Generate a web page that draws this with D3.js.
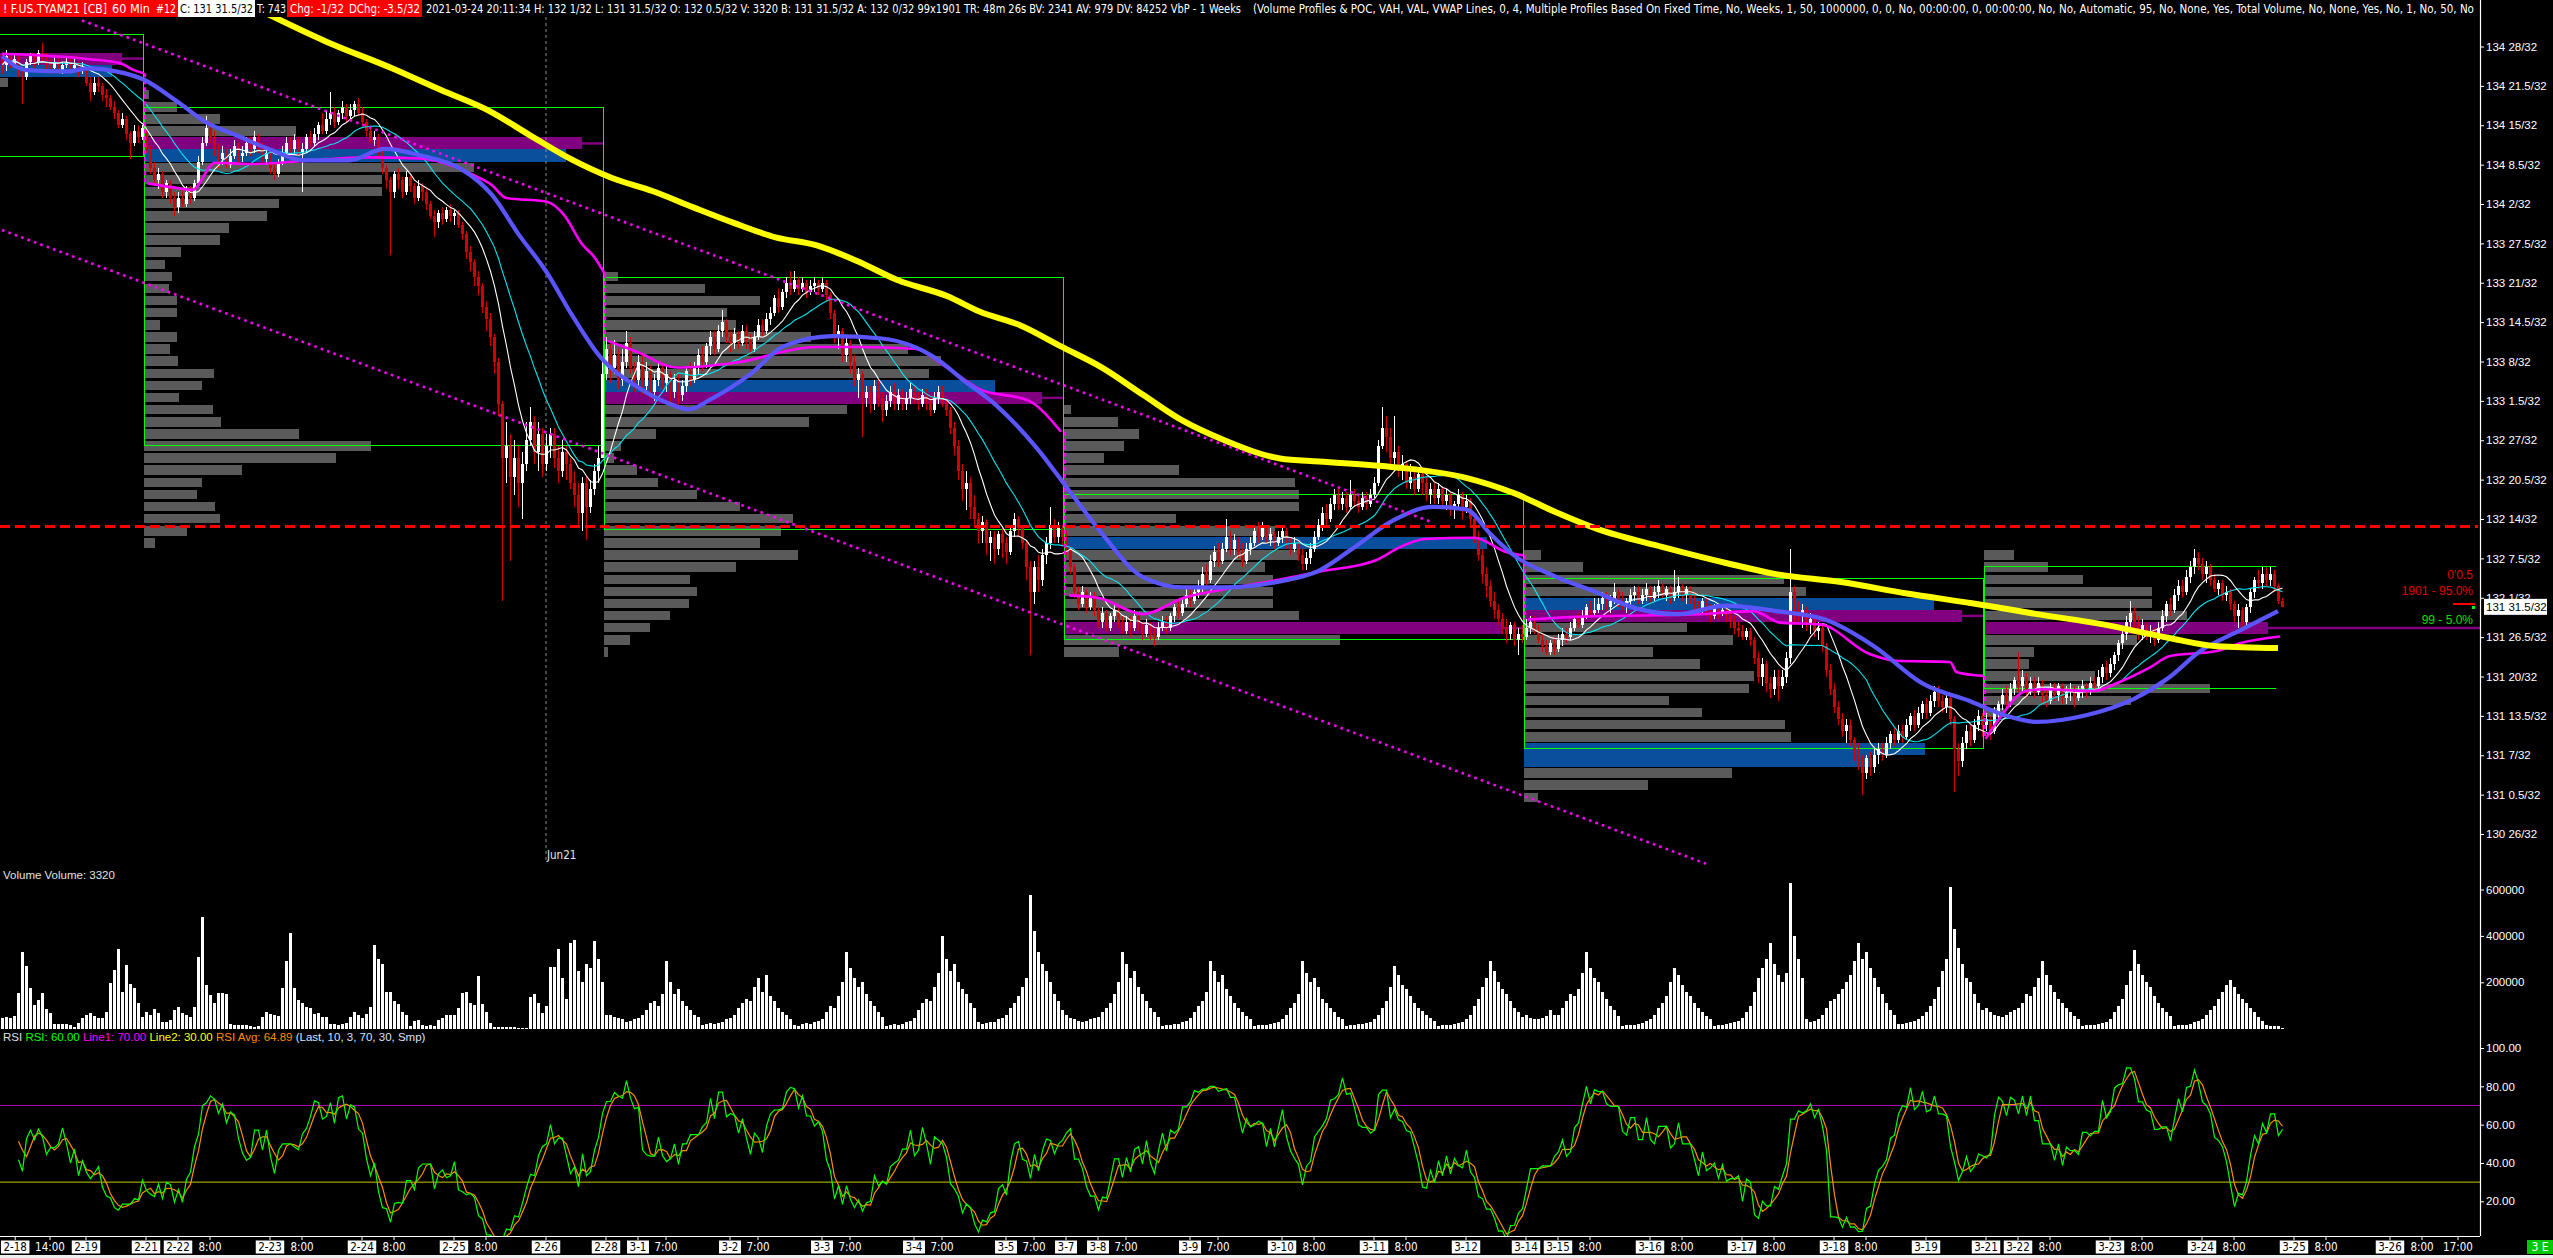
<!DOCTYPE html>
<html><head><meta charset="utf-8"><title>F.US.TYAM21 60 Min</title>
<script src="https://cdn.jsdelivr.net/npm/d3@7/dist/d3.min.js"></script>
<style>
html,body{margin:0;padding:0;background:#000;overflow:hidden}
svg{display:block}
text{font-family:'Liberation Sans','DejaVu Sans',sans-serif}
.n,.n text{font-family:'Liberation Sans Narrow','DejaVu Sans Condensed','Roboto Condensed','Liberation Sans',sans-serif}
</style></head><body>
<svg id="chart" width="2553" height="1258"></svg>
<script>
// ---------------- DATA (prices in 32nds above 130, volume in thousands) ----------------
const firstOpen = 154;
const closes = [153,154.5,153,154,152,151,153.5,154.5,153.5,155,154,153,152.5,153.5,152,153,153.5,152.5,153,152,152.5,150,148.5,150,149.5,148,147.5,146,145,143,144,141.5,140,142,141,142.5,139,136,134,135,132,133.5,131,129.5,131,130,132,131,133.5,137,140,142.5,141,139,137.5,138.5,136.5,138,139.5,138,138.5,140,139,141,139.5,137.5,138.5,136,135,137,138.5,140,139,140.5,138.5,139,141,140,141.5,143,142,144,145,143.5,145,146,144.5,145.5,146.5,145,143.5,142,140.5,141,138,136,134,132,135,134,132,134.5,133,131,133,132,130,128,127,128.5,127.5,129,128,128.5,126.5,125,122,120.5,118,116.5,113,111,108,104,97,88,90,85,88,84,87,91,94,89,92,87,90,92,88,86,89,87,84,82,79,84,80,83,86,88,102,106,103,105,101,104,107,103,101,104,100,102.5,99,101,103,100.5,102,99,101,98.5,100,102.5,101,103,105,104,106.5,108,106,109,110.5,108,107,108.5,107,109,107.5,106,108,110,109,111,112,114.5,113,115.5,117,116,117.5,116,117,115.5,116.5,117,116,117,115,112,108,109,105,107,104,101,102,98,99,97,100,98,96,97.5,99,97,98.5,97,98,99.5,98,97,98.5,97.5,96,98,99,97,96,93,90,86,83,84,80,78,76,77.5,74,75,73,75.5,74,72.5,76,78,76.5,74,70,66,70,68,72,74,77,75,76.5,75,73,70,66,64,66,63.5,65,63,61,62.5,60,62,63,61,59.5,61,60,62,60.5,59,60.5,59,58.5,60,61,60,62,63.5,62.5,64,65.5,64.5,66,67,69,68,71,72.5,71,73,75,73,74.5,72.5,71,73,74,76,75,76.5,74.5,75.5,74,75,76,74,73,74,72,70.5,71.5,73,75,77,79,78,80.5,82,80.5,81.5,80,82,81,80,81.5,80.5,82,84,90,93,91.5,88,89,86,87,84,85,83,85.5,84,82,83,81.5,83,81,82,79.5,80.5,82,80,81,78,75,72,69,67,64.5,63,61.5,60,59,60.5,58,59,58.5,60,61,59.5,58,57,56,57.5,56.5,58,59,58.5,60,61.5,60.5,62,63.5,62.5,63,64,65,63.5,64.5,66,65,63.5,64.5,65.5,66,64.5,65.5,66.5,65,66,67,65.5,66.5,65,66,67,65.5,66.5,65,64,63,64.5,63,62,63.5,62.5,63,62,61,60,59.5,58.5,59.5,58,55,52,54,51,50,52,50.5,52,55,66,63,62,63,60.5,61.5,59.5,60,57,53,50,47,45,43,44,41.5,40,38,36,38.5,37,39,40,39,41,42.5,41.5,43,42,44,45.5,44,46,47.5,46,48,49.5,48,47,48.5,45,40,38,41,43,41.5,44,45.5,44,45,43,46,47.5,49,48,50,51.5,50.5,52,50,51,49.5,51,49,48,50,49,50.5,48.5,49.5,50,48.5,49.5,50.5,49.5,51,50.5,52,53.5,52.5,54,55.5,57.5,59,61,62.5,61,59,60.5,58.5,59.5,58,60,62,64,63,65.5,67,66,68.5,70,71.5,70.5,69,70,68,66.5,67.5,65.5,66,64,62,63,61,63.5,66,68,67.5,69,68,69,67,64.5,63.5];
const highs = [155,155.5,155,155,154.5,152.5,154,155,155,155.5,156.5,155,154,154.5,154,153.5,154.5,154,154,153.5,153.5,152.5,151,151,151,150,149,148,147,145.5,145,144.5,142,143,143,143,142.5,139.5,137,136,135.5,134,134,132,132,132.5,133,133,134,138,141,144.5,143.5,142,140,139.5,139,139,140.5,140,139.5,141,141,142,141.5,140,139,139,137,137.5,139.5,141,141,141.5,141,140,141.5,142,142.5,143.5,145,145.5,148.5,146,145.5,147,146.5,146.5,147,147.5,146,144,143,142,141.5,139,136.5,134.5,135.5,136,134.5,135.5,135,133.5,134,133.5,132.5,130.5,129,129,129.5,129.5,130,129,129,127,125.5,123,121,119,117,114,112,108.5,104.5,97.5,94,92,91,90,89,94,96.5,95,94,93,92,93,93,90,91,90,88,86,84,85,85,84.5,87,90,104,108,107,107.5,106,106,109,108,104,105,105,104,103.5,102,104,104,103.5,102.5,102,102,101,103,104,104,106,106.5,107,109,109,110,112.5,111,109,109.5,109,110,110,108.5,109,111,111,112,113,115,116,116,118,119,119,118,118,117.5,117.5,118,117.5,118,117.5,115.5,112.5,110,109.5,108,107.5,105,103,102.5,100,100,101,101,99,98.5,100,100.5,99.5,99.5,99,100.5,100,99,99.5,99.5,98.5,99,100,100,98,96.5,94,91,87,86,85,82,79,78.5,78,76,76,76,76.5,75,77,79,78.5,77,74.5,71,71,72,73,75,80,78,77.5,77,76,73.5,70.5,67,67,66.5,66,66,63.5,63.5,63,62.5,64,63.5,62,62,62,63,62.5,61,61.5,61,60,61,62,62,62.5,64,64.5,65,66.5,66.5,67,68,70,70.5,72,73.5,74,74,78,76,75.5,75,74,74,75,77,77.5,77.5,77,76.5,76,76,77,76.5,75,75,74.5,73,72.5,74,76,78,80,80.5,81.5,83,83,82.5,82.5,84.5,83,82,82.5,82.5,83,85,91,96.5,95,93,95,90,88.5,87.5,87,86,86.5,86,85,84,84,84,83.5,83,82.5,81,83,82.5,82,81.5,79,76,73,70,68,66,64,62.5,61.5,61,61,60,60.5,61.5,62,62,60.5,59,58,58,58.5,59,60,60,61,62,62.5,63,64,64.5,65,65,66,66,65.5,67.5,66.5,66,65,66.5,67,67,66.5,67.5,67,67,68,67.5,67,67,69.5,68.5,67.5,67,67,66,64.5,65,65,64,64,64,64,63.5,62.5,62,61,60.5,60,60,58.5,56,55,54.5,52,53,53,53,56,73,67,64.5,64,63.5,62.5,62,61,60.5,57.5,54,51,48,46,45,45,42,41,39,39,39.5,40,41,41,42,43,43.5,44,44,45,46,46.5,47,48,48.5,49,50.5,50.5,49,49,49,45.5,41,42,44,44,45,46.5,46,46,45.5,47,48,50,50.5,51,52,56,53,52.5,52,52,52,51.5,50,51,51,51,51,50.5,51,50.5,50.5,51.5,51,52,52,53,54,54.5,55,56,58,60,62,64.5,63.5,62,61.5,61,60.5,60,61,63,64.5,65,66.5,68,68,69.5,71,73,72.5,71.5,71,70.5,69,68,68,67,66.5,64.5,64,63.5,64,66.5,68.5,69.5,70,70,70,69.5,67.5,65];
const lows = [151.5,152,152.5,152.5,151,146.5,150.5,153,152.5,153,153.5,152,151.5,152,151.5,151.5,152.5,152,152,151,151.5,149.5,147,148,148.5,147,146,145.5,144,142.5,142.5,140.5,137.5,139.5,140,140.5,138.5,135,133,132.5,131,131,130,128,128.5,129.5,129.5,130,130.5,133,136.5,139.5,140,138,136,136.5,136,136,137.5,137,137,138,138,138.5,138.5,137,136.5,135,134,134.5,136.5,138,137.5,138.5,138,132,138.5,139.5,139.5,140.5,141.5,141.5,143,142.5,143,144,143.5,144,144.5,144.5,143,141,140,139.5,137.5,135,132.5,121.5,131,132.5,131,131.5,132,130,130.5,130.5,129,127.5,124.5,126,126.5,127,127,126.5,126,124,121,119,116.5,115,112,109,106.5,102,95,64.5,84,71,82,80,78,86,90,87,86,85,86,88,86.5,84,85,84.5,83,80,77,76,74.5,79,82,84,88,101,100.5,102,99.5,100,103,102,99,100,98.5,99,98,97.5,100,99.5,99,97,98,96.5,97.5,99,100,100.5,102,102.5,103,105,105,105.5,108,107,105.5,106,106,106.5,106,105,105.5,107.5,108,108.5,110,111.5,112,112.5,114.5,115,115.5,115,115.5,114.5,115,115.5,115,115.5,114,111,107,106,104,104,102,100,98,91.5,96.5,95.5,96,96.5,94,95,96.5,96,96,96,96,97,97,96,96.5,96,95,95.5,97,96.5,95,92,88.5,84.5,81,79.5,78,76.5,74,74,72,71,70.5,72,71.5,70.5,72,75,75,73,68,55.5,64,66,67,70.5,73,74,74,73.5,72,69,65,63,63.5,62.5,63,62,60,60,59.5,59.5,61,60,59,59,58.5,59.5,59.5,58,58.5,58,57,58,59.5,59,59.5,61,61.5,62,63.5,63.5,64,65,66,67,67.5,70,70,70.5,72.5,72,72,71.5,70,70.5,72,73.5,74,74.5,74,73.5,73,73.5,74,73,72,72.5,71,69.5,69.5,70.5,72.5,74.5,76,77,77.5,79.5,79.5,79.5,79,79.5,80,79,79.5,79.5,80,81.5,83.5,89.5,89,87,86,85,84.5,83,83,82,82.5,82,81,80.5,80.5,80.5,80,79.5,78.5,78,79.5,78,79,77,74,71,67.5,65,63.5,61.5,60.5,59,57.5,58,57,55.5,57.5,58,59,59,57.5,56,55.5,55.5,55.5,56,57,57.5,58,59.5,60,60,61.5,62,62,62.5,63,63,62.5,64,63.5,63,62.5,63.5,64.5,64,64,64.5,64,64.5,65,65,64.5,64,64.5,65,64.5,64,64,63,62,62.5,62,61,61.5,61.5,62,61,60,59,58.5,58,58,57,54,51,50.5,49.5,48.5,49,48,50,51,54,61,60.5,60,59.5,59,58.5,58,56,52,49,46,44,42,41,40.5,38,36.5,32.5,35,35.5,36,37.5,38,38.5,40,40.5,41,41,41.5,43,43,43.5,45,45,45.5,47,47,46,46,44,33,35.5,37,40,40.5,41,43,42,43,41.5,42.5,45,46.5,47,47,49,49.5,49.5,48.5,49,48.5,49,47.5,47,47.5,48,48,47.5,47.5,48,47,48,48.5,48.5,49,49.5,50,51,51.5,52,53,54.5,56.5,58,60,60,58,58,58,57.5,57,57.5,59.5,61,62,62.5,64.5,65,65.5,67.5,69,69.5,68,67.5,67,66,65.5,64.5,64.5,63,61,60,60,60.5,62.5,65,66.5,66.5,67,67,66,64,63.5];
const volumes = [48,51,48,55,155,329,270,174,102,124,152,85,66,19,19,20,19,16,8,26,44,59,66,55,48,44,73,195,253,342,159,274,192,174,109,49,70,59,83,66,30,27,37,80,93,69,59,52,95,310,480,188,145,109,155,155,149,19,16,17,14,16,13,8,11,52,70,63,59,55,174,293,411,174,124,109,95,88,63,66,52,52,20,19,16,19,23,52,73,59,47,63,95,360,302,281,159,159,119,106,73,59,11,34,37,14,13,16,13,37,44,59,57,59,88,152,159,109,102,227,106,73,23,8,8,8,8,8,8,4,4,4,138,149,112,69,98,264,267,342,220,126,370,382,250,200,280,260,380,300,200,60,60,50,45,40,30,35,40,45,60,80,110,120,100,150,290,200,150,170,120,100,80,60,50,15,20,25,20,25,30,40,45,60,90,110,130,120,180,220,160,230,140,120,90,70,60,40,15,12,20,25,20,30,35,40,70,100,90,140,200,330,260,220,180,200,150,120,100,70,50,12,15,20,18,22,30,35,45,80,110,130,120,180,240,400,300,250,280,200,170,150,110,90,30,20,25,30,28,40,45,60,90,110,140,180,220,575,420,330,280,250,200,150,120,80,60,45,40,35,30,35,40,45,50,70,90,110,150,200,330,280,220,250,180,150,120,90,70,50,12,15,18,20,22,28,35,45,70,100,120,160,290,250,200,230,170,140,110,90,70,55,40,12,15,15,18,20,25,30,40,60,90,110,150,290,240,200,220,180,130,110,90,70,50,40,12,14,16,20,22,25,30,40,60,90,120,180,270,230,190,170,140,110,90,75,60,45,35,12,14,16,18,20,25,30,40,60,100,130,180,220,290,250,200,170,150,120,90,70,50,60,45,40,40,45,55,80,60,60,90,120,150,140,170,240,330,260,220,200,160,130,100,80,55,12,14,16,18,22,26,32,42,60,90,110,140,200,260,230,190,160,140,110,90,70,55,40,12,14,16,20,24,28,35,45,70,100,160,220,260,300,370,280,230,200,240,630,400,300,220,40,30,35,40,60,90,120,130,150,170,200,230,290,370,300,330,260,220,180,150,110,80,60,20,22,24,30,35,40,55,70,100,130,180,250,300,610,430,350,280,220,200,150,110,80,90,70,60,55,50,60,70,80,90,110,150,140,180,220,290,230,190,160,130,110,90,70,55,40,12,14,15,18,20,25,30,40,70,100,130,190,250,340,280,230,200,180,140,110,90,70,55,12,14,16,18,22,28,32,40,60,80,100,130,160,190,210,180,150,130,110,90,70,50,35,15,12,12,10,3.3];

// moving-average line (bar index, price in 32nds)
const blueMA = [[0,154.4],[6.25,152.1],[16.25,151.9],[21.9,152.4],[28.5,151.9],[35.25,150.6],[44.25,146.7],[51,143.5],[58.75,141.3],[66.65,139.1],[75.5,137.2],[86.75,137.2],[95.75,139.1],[104.7,138.0],[114.75,135.8],[122.5,131.5],[129.25,124.9],[136,118.9],[142.75,111.4],[149.5,104.8],[158.4,100.0],[166.25,97.2],[171.75,96.1],[177,97.7],[187.25,102.0],[195.4,106.5],[207.7,108.2],[220,107.8],[234,104.3],[240,101.1],[248.5,96.8],[258.7,89.7],[266.75,82.7],[275,75.6],[285,68.5],[295.5,66.7],[305.6,66.7],[319.5,67.7],[329,69.4],[337.4,73.0],[347.6,77.7],[357.75,80.0],[366,79.6],[372,75.6],[378,72.0],[388.4,68.5],[398.6,65.9],[408.75,63.2],[419,62.3],[431,63.7],[443.5,62.8],[455.75,61.4],[468,57.0],[480,50.9],[492.5,47.8],[500.7,45.6],[508.75,44.5],[521,45.6],[533,48.3],[541.5,51.7],[549.6,56.2],[559.75,59.7],[569,62.8]];
const yellowMA = [[64.75,161.9],[81.1,156.8],[97.5,152.4],[109.75,148.8],[122,145.3],[132.1,141.3],[142.25,137.4],[152.5,134.3],[162.75,132.1],[173,129.4],[183.25,126.8],[193.4,124.5],[203.5,123.2],[213.75,120.6],[224,117.4],[236.25,114.8],[244.5,112.2],[254.5,110.0],[264.75,106.5],[275,103.0],[285.25,98.5],[295.5,94.1],[305.6,91.0],[319.5,88.0],[329.25,87.5],[347.5,86.6],[366,84.8],[378.25,82.2],[388.5,79.1],[398.6,76.4],[415,73.4],[431.25,70.7],[443.5,68.9],[459.75,67.6],[476.25,65.7],[492.5,64.1],[508.75,62.3],[525.25,60.6],[541.5,58.4],[553.75,57.0],[569,56.7]];
// weekly VWAP lines
const vwap = [
 [[0,154.8],[21.9,153.9],[29.75,153.2],[33,152.1],[35.5,151.6]],
 [[36.4,133.4],[44.25,132.6],[47.6,132.3],[53.25,136.8],[62.2,136.6],[75.5,137.1],[91.25,137.7],[104.5,137.5],[118.1,134.7],[122.5,133.1],[126,131.0],[136,130.4],[140.5,128.2],[145,123.4],[148.25,121.1],[150.75,118.4]],
 [[151.5,107.4],[158.75,105.6],[168.9,103.0],[183.25,103.8],[203.5,106.4],[213.75,106.4],[228,106.1],[236.25,103.0],[244.5,99.4],[256.75,97.5],[264.75,92.4]],
 [[266.75,65.4],[274,65.0],[285.25,62.3],[295.5,65.0],[305.6,66.4],[319.5,68.0],[329.25,69.3],[343.5,71.2],[349.65,73.4],[355.75,74.7],[368,74.9],[376.25,72.5],[380.25,72.0]],
 [[381.5,61.4],[395.5,61.9],[413.25,62.1],[424.5,62.3],[437.9,62.8],[444.5,60.9],[454.6,60.6],[466.9,55.7],[473.5,54.6],[487,54.4],[488.7,52.7],[495.4,52.1]],
 [[495.9,41.7],[499.25,45.0],[506,49.6],[510.5,49.9],[522.75,49.6],[529.4,51.1],[537,53.5],[542,55.4],[553.7,56.2],[559.5,57.5],[569.5,58.6]]
];
// weekly volume profiles
const profileStart = [-80, 36, 151, 266, 381, 496];
const profileEnd   = [36, 151, 266, 381, 496, 570.5];
const profileTop   = [156, 148, 118, 96, 72, 72];
const profileVols = [
 [250,440,430,327,280,200],
 [4.8,32.6,75.9,151,435.9,420,328,236.7,236.7,134.6,122.4,84.8,75.9,36.7,21.2,27.7,24.4,32.6,32.6,16.3,32.6,26,34.2,70,58,35,69,76.7,154,226,191,98,58,53,71,76,42.4,11.4],
 [14,100.6,155,122.6,131,206,302,335,322.6,388,435,241,204,52,16.5,10,33,54,92,135,188,176,155,193,131,85,92,84,66,46,26,4],
 [7,54,75,60,40,115,232,236,236,112,212,424,236,201,210,210,210,236,439,277,55],
 [17,59,259,281,408,436,162,208,128,175.5,228.6,223.7,144.5,177,259.6,266,399,344.5,207,123,14],
 [30,63,98,166,166,200,280,151,49,44,110,223,145,20]
];
const profilePOC  = [1, 4, 10, 18, 5, 6];
const profileBlue = [[2],[5],[9],[11],[4,16,17],[]];
const valueAreaHigh = [157.9, 146.0, 117.8, 82.1, 68.1, 70.2];
const valueAreaLow  = [137.9, 90.1, 76.2, 58.1, 40.1, 50.0];
const trendUpper = [[20,160.3],[357,77.6]];
const trendLower = [[0,125.7],[426,21.1]];
const refLine = 76.75;
const lastPrice = 63.5;
const rollBar = 136;
// axis ticks
const priceTickValues = [156,149.5,143,136.5,130,123.5,117,110.5,104,97.5,91,84.5,78,71.5,65,58.5,52,45.5,39,32.5,26];
const priceTickLabels = ["134 28/32","134 21.5/32","134 15/32","134 8.5/32","134 2/32","133 27.5/32","133 21/32","133 14.5/32","133 8/32","133 1.5/32","132 27/32","132 20.5/32","132 14/32","132 7.5/32","132 1/32","131 26.5/32","131 20/32","131 13.5/32","131 7/32","131 0.5/32","130 26/32"];
const volTickValues = [200, 400, 600];
const volTickLabels = ["200000","400000","600000"];
const rsiTickValues = [20, 40, 60, 80, 100];
const rsiTickLabels = ["20.00","40.00","60.00","80.00","100.00"];
const timeTickBars = [3.3,12,21,36,44,52,67,75,90,98,113,121,136,151,159,166,182,189,205,212,228,235,251,258,266,274,281,297,304,320,328,343,351,366,381,389,397,412,420,435,443,458,466,481,496,504,512,527,535,550,558,573,581,597,605,614];
const timeTickLabels = ["2-18","14:00","2-19","2-21","2-22","8:00","2-23","8:00","2-24","8:00","2-25","8:00","2-26","2-28","3-1","7:00","3-2","7:00","3-3","7:00","3-4","7:00","3-5","7:00","3-7","3-8","7:00","3-9","7:00","3-10","8:00","3-11","8:00","3-12","3-14","3-15","8:00","3-16","8:00","3-17","8:00","3-18","8:00","3-19","3-21","3-22","8:00","3-23","8:00","3-24","8:00","3-25","8:00","3-26","8:00","17:00"];

// ---------------- DRAWING ----------------
const W = 2553, H = 1258, AX = 2480;
const svg = d3.select("#chart");
svg.append("rect").attr("width", W).attr("height", H).attr("fill", "#000");

const X = d3.scaleLinear().domain([0, 570]).range([2, 2282]);
const edge = b => X(b) - 2;
const Y = d3.scaleLinear().domain([26, 156]).range([834, 46.5]);
const YV = d3.scaleLinear().domain([0, 600]).range([1028.7, 889.5]);
const YR = d3.scaleLinear().domain([20, 100]).range([1201.3, 1048]);

const defs = svg.append("defs");
defs.append("clipPath").attr("id", "mainClip").append("rect").attr("x", 0).attr("y", 17).attr("width", AX).attr("height", 858);
defs.append("clipPath").attr("id", "rsiClip").append("rect").attr("x", 0).attr("y", 1040).attr("width", AX).attr("height", 196);
const main = svg.append("g").attr("clip-path", "url(#mainClip)");

// volume profiles
profileVols.forEach((vols, k) => {
  const x0 = edge(profileStart[k]), x1 = edge(profileEnd[k]);
  const len = d3.scaleLinear().domain([0, d3.max(vols)]).range([0, (x1 - x0) * 0.952]);
  const g = main.append("g").attr("shape-rendering", "crispEdges");
  vols.forEach((v, j) => {
    const p = profileTop[k] - 2 * j;
    const yt = Y(p + 1), yb = Y(p - 1);
    const poc = j === profilePOC[k], blue = profileBlue[k].includes(j);
    g.append("rect").attr("x", x0).attr("width", len(v))
      .attr("y", (poc || blue) ? yt : yt + 1)
      .attr("height", (poc || blue) ? (yb - yt) : (yb - yt - 2.6))
      .attr("fill", poc ? "#800080" : blue ? "#0a4f9c" : "#5a5a5a");
  });
  const pp = profileTop[k] - 2 * profilePOC[k];
  const xe = k === profileVols.length - 1 ? AX : x1;
  main.append("line").attr("x1", x0 + len(vols[profilePOC[k]])).attr("x2", xe)
    .attr("y1", Y(pp)).attr("y2", Y(pp)).attr("stroke", "#800080").attr("stroke-width", 2.5);
});

// value-area boxes (VAH / VAL)
const vaG = main.append("g").attr("stroke", "#00ff00").attr("stroke-width", 1).attr("shape-rendering", "crispEdges");
profileStart.forEach((s, k) => {
  const last = k === profileStart.length - 1;
  const x0 = edge(s), x1 = last ? edge(profileEnd[k]) - 6 : edge(profileEnd[k]);
  const yh = Y(valueAreaHigh[k]), yl = Y(valueAreaLow[k]);
  vaG.append("line").attr("x1", x0).attr("x2", x1).attr("y1", yh).attr("y2", yh);
  vaG.append("line").attr("x1", x0).attr("x2", x1).attr("y1", yl).attr("y2", yl);
  if (k > 0) vaG.append("line").attr("x1", x0).attr("x2", x0).attr("y1", yh).attr("y2", yl);
  if (!last) vaG.append("line").attr("x1", x1 - 1).attr("x2", x1 - 1).attr("y1", yh).attr("y2", yl);
});

// reference dashed red line
svg.append("line").attr("x1", 0).attr("x2", AX - 2).attr("y1", Y(refLine)).attr("y2", Y(refLine))
  .attr("stroke", "#ff0000").attr("stroke-width", 3).attr("stroke-dasharray", "10,5");

// roll-over marker
main.append("line").attr("x1", X(rollBar)).attr("x2", X(rollBar)).attr("y1", 17).attr("y2", 860)
  .attr("stroke", "#8a8a8a").attr("stroke-width", 1).attr("stroke-dasharray", "3,3");
svg.append("text").attr("class", "n").attr("x", X(rollBar) + 1).attr("y", 859).attr("fill", "#e6e6e6")
  .attr("font-size", 11.5).text("Jun21");

// candles
const bars = closes.map((c, i) => {
  const o = i ? closes[i - 1] : firstOpen;
  return { i, o, c, h: Math.max(highs[i], o, c), l: Math.min(lows[i], o, c) };
});
const gc = main.append("g").attr("shape-rendering", "crispEdges");
gc.selectAll("rect.w").data(bars).join("rect").attr("class", "w")
  .attr("x", d => X(d.i)).attr("width", 1)
  .attr("y", d => Y(d.h)).attr("height", d => Math.max(1, Y(d.l) - Y(d.h)))
  .attr("fill", d => d.c >= d.o ? "#ffffff" : "#d40000");
gc.selectAll("rect.b").data(bars).join("rect").attr("class", "b")
  .attr("x", d => X(d.i) - 1).attr("width", 3)
  .attr("y", d => Y(Math.max(d.o, d.c))).attr("height", d => Math.max(1, Math.abs(Y(d.o) - Y(d.c))))
  .attr("fill", d => d.c >= d.o ? "#ffffff" : "#d40000");

// short moving averages of the closes
function sma(arr, n) { return arr.map((v, i) => d3.mean(arr.slice(Math.max(0, i - n + 1), i + 1))); }
const lineBars = d3.line().x((d, i) => X(i) + 0.5).y(d => Y(d));
main.append("path").attr("d", lineBars(sma(closes, 20))).attr("fill", "none").attr("stroke", "#00e6f0").attr("stroke-width", 1.1);
main.append("path").attr("d", lineBars(sma(closes, 10))).attr("fill", "none").attr("stroke", "#ffffff").attr("stroke-width", 1.1);

// VWAP
const ptLine = d3.line().curve(d3.curveMonotoneX).x(d => X(d[0])).y(d => Y(d[1]));
vwap.forEach((seg, k) => {
  main.append("path").attr("d", ptLine(seg)).attr("fill", "none").attr("stroke", "#ff00ff").attr("stroke-width", 2.6);
  if (k < vwap.length - 1) {
    const a = seg[seg.length - 1], b = vwap[k + 1][0];
    main.append("line").attr("x1", edge(profileEnd[k]) + 1).attr("x2", edge(profileEnd[k]) + 1)
      .attr("y1", Y(a[1])).attr("y2", Y(b[1])).attr("stroke", "#ff00ff").attr("stroke-width", 2.2).attr("stroke-dasharray", "4,3");
  }
});
main.append("path").attr("d", ptLine(blueMA)).attr("fill", "none").attr("stroke", "#5a55ff").attr("stroke-width", 4.2);
main.append("path").attr("d", ptLine(yellowMA)).attr("fill", "none").attr("stroke", "#ffff00").attr("stroke-width", 6);
[trendUpper, trendLower].forEach(t => main.append("path").attr("d", d3.line().x(d => X(d[0])).y(d => Y(d[1])).curve(d3.curveLinear)(t))
  .attr("fill", "none").attr("stroke", "#ff00ff").attr("stroke-width", 2.6).attr("stroke-dasharray", "2.6,4.2"));

// volume pane
svg.append("g").attr("shape-rendering", "crispEdges").selectAll("rect").data(volumes).join("rect")
  .attr("x", (d, i) => X(i) - 1).attr("width", 3).attr("y", d => YV(d)).attr("height", d => YV(0) - YV(d)).attr("fill", "#ffffff");

// RSI (10, simple) and its 3-bar average, from the closes
const rsi = closes.map((c, i) => {
  let g = 0, l = 0;
  for (let j = Math.max(1, i - 9); j <= i; j++) { const d = closes[j] - closes[j - 1]; if (d > 0) g += d; else l -= d; }
  return (g + l) === 0 ? 50 : 100 * g / (g + l);
});
const rsiAvg = sma(rsi, 3);
const rsiG = svg.append("g").attr("clip-path", "url(#rsiClip)");
rsiG.append("line").attr("x1", 0).attr("x2", AX).attr("y1", YR(70)).attr("y2", YR(70)).attr("stroke", "#b000b0").attr("stroke-width", 1);
rsiG.append("line").attr("x1", 0).attr("x2", AX).attr("y1", YR(30)).attr("y2", YR(30)).attr("stroke", "#c8c800").attr("stroke-width", 1);
const rl = d3.line().defined((d, i) => i >= 4).x((d, i) => X(i) + 0.5).y(d => YR(d));
rsiG.append("path").attr("d", rl(rsiAvg)).attr("fill", "none").attr("stroke", "#ff8c00").attr("stroke-width", 1.2);
rsiG.append("path").attr("d", rl(rsi)).attr("fill", "none").attr("stroke", "#00ff00").attr("stroke-width", 1.2);

// pane labels
svg.append("text").attr("x", 3).attr("y", 879).attr("font-size", 11.5).attr("fill", "#e0e0e0").text("Volume  Volume: 3320");
const rt = svg.append("text").attr("x", 3).attr("y", 1041).attr("font-size", 11.5);
[["RSI", "#e0e0e0"], ["RSI: 60.00", "#00ff00"], ["Line1: 70.00", "#ff00ff"], ["Line2: 30.00", "#ffff00"], ["RSI Avg: 64.89", "#ff8c00"], [" (Last, 10, 3, 70, 30, Smp)", "#d8e4ff"]]
  .forEach(([t, c]) => rt.append("tspan").attr("fill", c).text(t + "  "));

// right axes
function rAxis(scale, vals, labels) {
  const g = svg.append("g").attr("transform", `translate(${AX},0)`)
    .call(d3.axisRight(scale).tickValues(vals).tickFormat((d, i) => labels[i]).tickSize(4).tickPadding(2));
  g.select(".domain").remove();
  g.selectAll("line").attr("stroke", "#fff");
  g.selectAll("text").attr("fill", "#fff").attr("font-size", 11.5).attr("font-family", "'Liberation Sans','DejaVu Sans',sans-serif");
}
rAxis(Y, priceTickValues, priceTickLabels);
rAxis(YV, volTickValues, volTickLabels);
rAxis(YR, rsiTickValues, rsiTickLabels);
svg.append("line").attr("x1", AX + 0.5).attr("x2", AX + 0.5).attr("y1", 0).attr("y2", 1236).attr("stroke", "#fff").attr("stroke-width", 1.2);
svg.append("line").attr("x1", 0).attr("x2", AX).attr("y1", 1236.5).attr("y2", 1236.5).attr("stroke", "#fff").attr("stroke-width", 1.2);

// current price box
svg.append("rect").attr("x", AX + 4).attr("y", Y(lastPrice) - 8).attr("width", 63).attr("height", 16).attr("fill", "#fff");
svg.append("text").attr("x", AX + 6).attr("y", Y(lastPrice) + 4).attr("font-size", 11.5).attr("fill", "#000").text("131 31.5/32");

// bid/ask block at right of price pane
svg.append("text").attr("x", 2473).attr("y", 579).attr("text-anchor", "end").attr("font-size", 12).attr("fill", "#e00000").text("0'0.5");
svg.append("text").attr("x", 2473).attr("y", 595).attr("text-anchor", "end").attr("font-size", 12).attr("fill", "#e00000").text("1901 - 95.0%");
svg.append("rect").attr("x", 2453).attr("y", 603).attr("width", 22).attr("height", 2).attr("fill", "#ff0000");
svg.append("rect").attr("x", 2472).attr("y", 606).attr("width", 3).attr("height", 3).attr("fill", "#00ff00");
svg.append("text").attr("x", 2473).attr("y", 624).attr("text-anchor", "end").attr("font-size", 12).attr("fill", "#00e000").text("99 - 5.0%");

// time axis
const ta = svg.append("g").attr("class", "n").attr("font-size", 11.5);
timeTickBars.forEach((b, i) => {
  const x = X(b), lab = timeTickLabels[i], isDate = lab.indexOf("-") > 0;
  ta.append("line").attr("x1", x).attr("x2", x).attr("y1", 1237).attr("y2", 1240).attr("stroke", "#fff");
  const t = ta.append("text").attr("x", x).attr("y", 1251).attr("text-anchor", "middle").attr("fill", isDate ? "#000" : "#fff").text(lab);
  if (isDate) {
    const w = t.node().getComputedTextLength() + 5;
    ta.insert("rect", "text").attr("x", x - w / 2).attr("y", 1240.5).attr("width", w).attr("height", 13).attr("fill", "#fff");
  }
});
svg.append("rect").attr("x", 2527).attr("y", 1240).attr("width", 26).attr("height", 14).attr("fill", "#00c800");
svg.append("text").attr("class", "n").attr("x", 2540).attr("y", 1251).attr("text-anchor", "middle").attr("font-size", 12).attr("fill", "#fff").text("3 E");
svg.append("rect").attr("x", 0).attr("y", 1255).attr("width", W).attr("height", 3).attr("fill", "#eeeeee");

// header bar (each text fitted to its slot)
const hg = svg.append("g").attr("class", "n");
const hdrBoxes = [[0, 178, "#ff0000"], [178, 255, "#ffffff"], [255, 287, "#000000"], [287, 347, "#ff0000"], [347, 422, "#ff0000"]];
hdrBoxes.forEach(([a, b, c]) => hg.append("rect").attr("x", a).attr("y", 0).attr("width", b - a).attr("height", 17).attr("fill", c));
const hdrTexts = [
  [3, 104, "#ffffff", "! F.US.TYAM21 [CB]"], [112, 38, "#ffffff", "60 Min"], [156, 20, "#ffffff", "#12"],
  [180, 73, "#000000", "C: 131 31.5/32"], [257, 29, "#ffffff", "T: 743"], [290, 54, "#ffffff", "Chg: -1/32"], [349, 71, "#ffffff", "DChg: -3.5/32"],
  [426, 815, "#ffffff", "2021-03-24 20:11:34 H: 132 1/32 L: 131 31.5/32 O: 132 0.5/32 V: 3320 B: 131 31.5/32 A: 132 0/32 99x1901 TR: 48m 26s BV: 2341 AV: 979 DV: 84252 VbP - 1 Weeks"],
  [1253, 1222, "#ffffff", "(Volume Profiles & POC, VAH, VAL, VWAP Lines, 0, 4, Multiple Profiles Based On Fixed Time, No, Weeks, 1, 50, 1000000, 0, 0, No, 00:00:00, 0, 00:00:00, No, No, Automatic, 95, No, None, Yes, Total Volume, No, None, Yes, No, 1, No, 50, No"]
];
hdrTexts.forEach(([x, w, c, t]) => {
  const el = hg.append("text").attr("x", x).attr("y", 13).attr("fill", c).attr("font-size", 12.5).text(t);
  const L = el.node().getComputedTextLength();
  const fs = Math.max(11.5, Math.min(13.5, 12.5 * w / L));
  el.attr("font-size", fs.toFixed(2));
  if (el.node().getComputedTextLength() > w) el.attr("textLength", w).attr("lengthAdjust", "spacingAndGlyphs");
});
</script></body></html>
